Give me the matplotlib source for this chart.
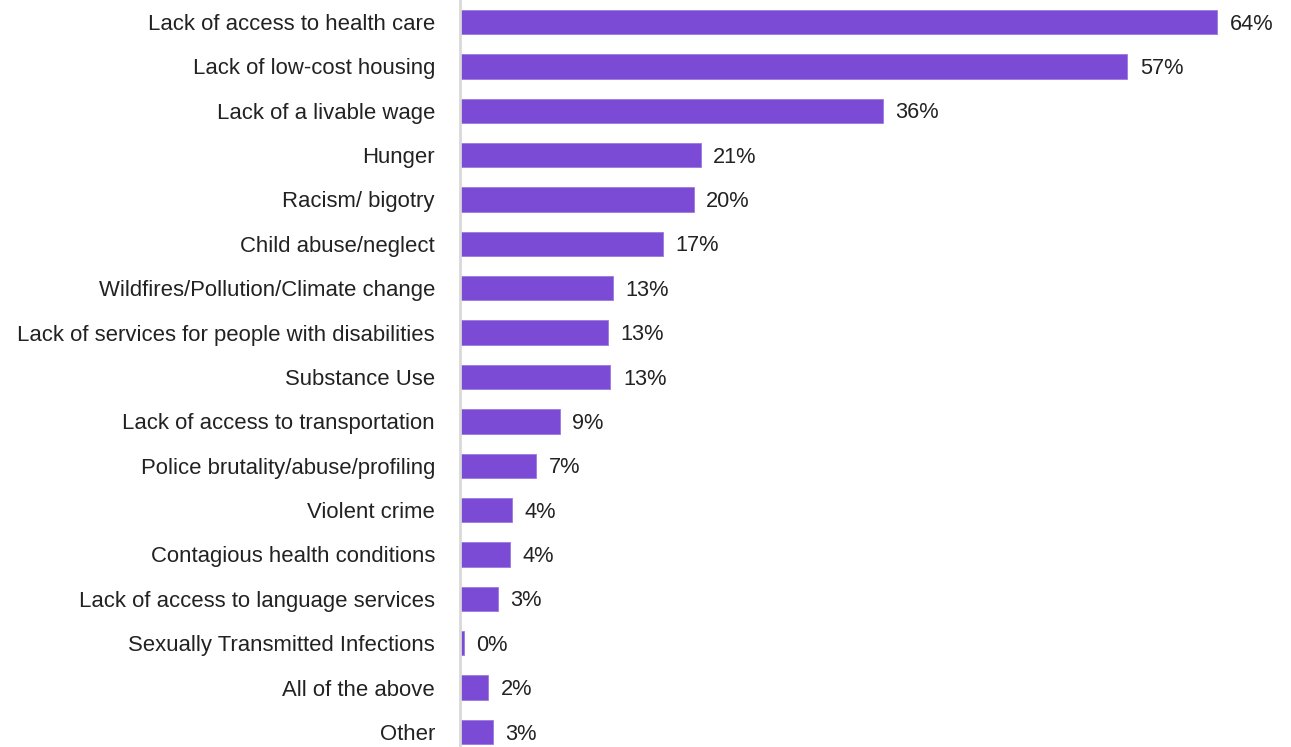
import matplotlib
matplotlib.use("Agg")
import matplotlib.pyplot as plt

categories = [
    "Lack of access to health care",
    "Lack of low-cost housing",
    "Lack of a livable wage",
    "Hunger",
    "Racism/ bigotry",
    "Child abuse/neglect",
    "Wildfires/Pollution/Climate change",
    "Lack of services for people with disabilities",
    "Substance Use",
    "Lack of access to transportation",
    "Police brutality/abuse/profiling",
    "Violent crime",
    "Contagious health conditions",
    "Lack of access to language services",
    "Sexually Transmitted Infections",
    "All of the above",
    "Other",
]
values = [64.45, 56.8, 36.0, 20.5, 19.9, 17.25, 13.0, 12.57, 12.8, 8.5,
          6.47, 4.45, 4.23, 3.23, 0.34, 2.41, 2.81]
value_labels = ["64%", "57%", "36%", "21%", "20%", "17%", "13%", "13%", "13%",
                "9%", "7%", "4%", "4%", "3%", "0%", "2%", "3%"]

plt.rcParams['font.family'] = ['Liberation Sans', 'DejaVu Sans']

W, H = 1291, 747
fig = plt.figure(figsize=(W / 100, H / 100), dpi=100)
ax = fig.add_axes([460 / W, 0, 831 / W, 1])

y = list(range(len(categories)))
bar_color = "#7B4BD5"
ax.barh(y, values, height=0.55, color=bar_color, edgecolor="#9a78e0", linewidth=0.6)

ax.set_xlim(0, 831 / 11.75)
ax.set_ylim(16 + 15 / 44.375, -22 / 44.375)

for yi, v, lab in zip(y, values, value_labels):
    ax.annotate(lab, xy=(v, yi), xytext=(9, -1.5), textcoords="offset points",
                ha="left", va="center", fontsize=15.7, color="#222222")

ax.set_yticks(y)
ax.set_yticklabels(categories, fontsize=15.9, color="#222222")
ax.tick_params(axis="y", length=0, pad=18)
ax.set_xticks([])

for s in ["top", "right", "bottom"]:
    ax.spines[s].set_visible(False)
ax.spines["left"].set_color("#d9d9d9")
ax.spines["left"].set_linewidth(2)

fig.savefig("out.png", dpi=100)
